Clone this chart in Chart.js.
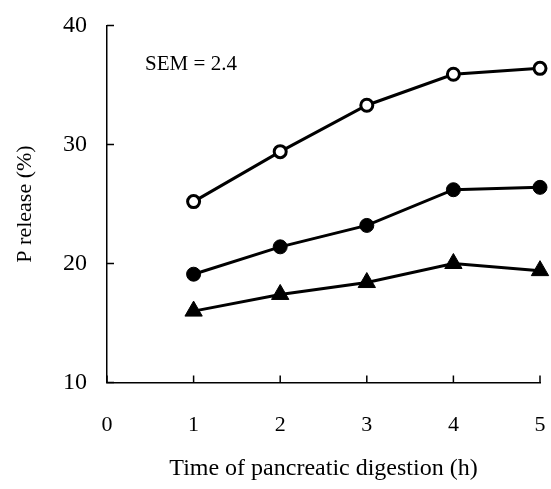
<!DOCTYPE html>
<html>
<head>
<meta charset="utf-8">
<script src="https://cdn.jsdelivr.net/npm/chart.js@4/dist/chart.umd.min.js"></script>
<style>
  html, body { margin: 0; padding: 0; background: #fff; }
  #wrap { width: 551px; height: 489px; }
</style>
</head>
<body>
<div id="wrap"><canvas id="chartP"></canvas></div>
<script>
// datos
const hours = [1, 2, 3, 4, 5];
const openCircle = [25.2, 29.4, 33.3, 35.9, 36.4];
const filledCircle = [19.1, 21.4, 23.2, 26.2, 26.4];
const triangle = [16.0, 17.4, 18.4, 20.0, 19.4];
const xTicks = [0, 1, 2, 3, 4, 5];
const yTicks = [10, 20, 30, 40];
const semText = 'SEM = 2.4';

const serif = "'Liberation Serif', 'DejaVu Serif', serif";

const toPoints = vals => hours.map((h, i) => ({ x: h, y: vals[i] }));

// sin padding automatico de las escalas
const noPad = s => {
   s.paddingTop = 0;
   s.paddingBottom = 0;
   s.paddingLeft = 0;
   s.paddingRight = 0;
};

// ticks hacia adentro y texto SEM
const innerTicks = {
   id: 'innerTicks',
   afterDraw(chart) {
      const ctx = chart.ctx;
      const xs = chart.scales.x;
      const ys = chart.scales.y;
      ctx.save();
      ctx.strokeStyle = '#000';
      ctx.lineWidth = 1.5;
      ctx.beginPath();
      xTicks.forEach(t => {
         const px = xs.getPixelForValue(t);
         ctx.moveTo(px, ys.bottom);
         ctx.lineTo(px, ys.bottom - 7);
      });
      yTicks.forEach(t => {
         const py = ys.getPixelForValue(t);
         ctx.moveTo(xs.left, py);
         ctx.lineTo(xs.left + 7, py);
      });
      ctx.stroke();
      ctx.fillStyle = '#000';
      ctx.font = '21px ' + serif;
      ctx.textAlign = 'left';
      ctx.textBaseline = 'middle';
      ctx.fillText(semText, xs.getPixelForValue(0.44), ys.getPixelForValue(36.7));
      ctx.restore();
   }
};

const ctx = document.getElementById('chartP').getContext('2d');
new Chart(ctx, {
   type: 'line',
   data: {
      datasets: [
         {
            label: 'open',
            data: toPoints(openCircle),
            borderColor: '#000',
            borderWidth: 3,
            pointStyle: 'circle',
            pointRadius: 6,
            pointBorderWidth: 3,
            pointBackgroundColor: '#fff',
            pointBorderColor: '#000',
            tension: 0,
            fill: false,
            clip: false
         },
         {
            label: 'filled',
            data: toPoints(filledCircle),
            borderColor: '#000',
            borderWidth: 3,
            pointStyle: 'circle',
            pointRadius: 7,
            pointBorderWidth: 1,
            pointBackgroundColor: '#000',
            pointBorderColor: '#000',
            tension: 0,
            fill: false,
            clip: false
         },
         {
            label: 'triangle',
            data: toPoints(triangle),
            borderColor: '#000',
            borderWidth: 3,
            pointStyle: 'triangle',
            pointRadius: 10,
            pointBorderWidth: 1,
            pointBackgroundColor: '#000',
            pointBorderColor: '#000',
            tension: 0,
            fill: false,
            clip: false
         }
      ]
   },
   options: {
      responsive: true,
      maintainAspectRatio: false,
      animation: false,
      layout: { padding: { top: 25.5, right: 10, left: 0, bottom: 0 } },
      plugins: {
         legend: { display: false },
         tooltip: { enabled: false }
      },
      scales: {
         x: {
            type: 'linear',
            min: 0,
            max: 5,
            afterFit: s => { s.height = 106.5; noPad(s); },
            afterBuildTicks: s => { s.ticks = xTicks.map(v => ({ value: v })); },
            grid: { display: true, drawOnChartArea: false, drawTicks: false },
            border: { display: true, color: '#000', width: 1.5 },
            ticks: {
               color: '#000',
               padding: 30,
               maxRotation: 0,
               font: { family: serif, size: 22 }
            },
            title: {
               display: true,
               text: 'Time of pancreatic digestion (h)',
               color: '#000',
               padding: { top: 0, bottom: 6 },
               font: { family: serif, size: 24 }
            }
         },
         y: {
            min: 10,
            max: 40,
            afterFit: s => { s.width = 107; noPad(s); },
            afterBuildTicks: s => { s.ticks = yTicks.map(v => ({ value: v })); },
            grid: { display: true, drawOnChartArea: false, drawTicks: false },
            border: { display: true, color: '#000', width: 1.5 },
            ticks: {
               color: '#000',
               padding: 20,
               font: { family: serif, size: 24 }
            },
            title: {
               display: true,
               text: 'P release (%)',
               color: '#000',
               padding: { top: 12, bottom: 0 },
               font: { family: serif, size: 22 }
            }
         }
      }
   },
   plugins: [innerTicks]
});
</script>
</body>
</html>
